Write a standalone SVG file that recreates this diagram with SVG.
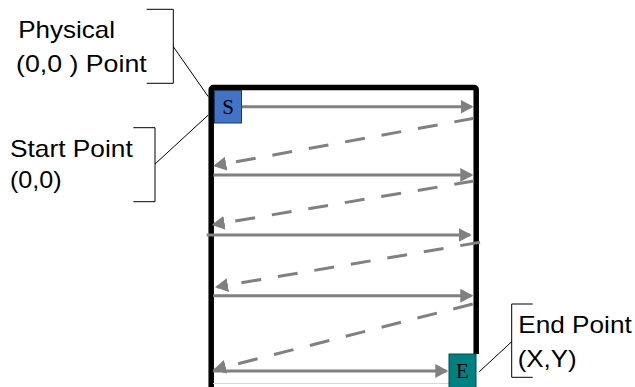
<svg xmlns="http://www.w3.org/2000/svg" width="635" height="387" viewBox="0 0 635 387">
<style>
.lbl{font-family:"Liberation Sans",Arial,sans-serif;font-size:24px;fill:#000}
.box{font-family:"Liberation Serif","Times New Roman",serif;font-size:21px;fill:#000}
.solid{stroke:#808080;stroke-width:3;fill:none;marker-end:url(#ah)}
.dash{stroke:#808080;stroke-width:3;fill:none;stroke-dasharray:20 17;marker-end:url(#ah)}
.thin{stroke:#000;stroke-width:1;fill:none}
</style>
<defs>
<marker id="ah" markerUnits="userSpaceOnUse" markerWidth="14" markerHeight="14" refX="11" refY="7" orient="auto" viewBox="0 0 14 14">
<path d="M0,0 L13,7 L0,14 z" fill="#808080"/>
</marker>
</defs>
<rect width="635" height="387" fill="#fff"/>
<g id="frame">
<rect x="211.2" y="87.5" width="265" height="320" rx="2" fill="none" stroke="#000" stroke-width="5.5"/>
<line x1="213" y1="383.5" x2="449" y2="383.5" stroke="#d6d6d6" stroke-width="1"/>
</g>
<g id="connectors">
<line class="solid" x1="242" y1="106.7" x2="471.5" y2="106.7"/>
<line class="dash" x1="474" y1="118.3" x2="215.3" y2="165.6"/>
<line class="solid" x1="213.3" y1="175" x2="471.3" y2="175"/>
<line class="dash" x1="474" y1="181" x2="213.7" y2="224.6"/>
<line class="solid" x1="206.7" y1="235" x2="469.7" y2="235"/>
<line class="dash" x1="480" y1="242.3" x2="217" y2="286.9"/>
<line class="solid" x1="213" y1="295.7" x2="471.3" y2="295.7"/>
<line class="dash" x1="472.7" y1="304" x2="215" y2="369.6"/>
<line class="solid" x1="213" y1="371" x2="446.3" y2="371"/>
</g>
<g id="start-node">
<rect x="214.5" y="90.5" width="27" height="32.5" fill="#4472C4" stroke="#1f3864" stroke-width="1"/>
<text class="box" x="228" y="113.5" text-anchor="middle">S</text>
</g>
<g id="end-node">
<rect x="473" y="354" width="8" height="33" fill="#fff"/>
<rect x="449" y="354" width="27" height="34" fill="#008080" stroke="#004d4d" stroke-width="1"/>
<text class="box" x="462.5" y="377.5" text-anchor="middle">E</text>
</g>
<g id="callout-physical">
<path class="thin" d="M146.7,9.3 H173.3 V83.3 H146.7"/>
<line class="thin" x1="173.3" y1="46.7" x2="208.3" y2="96.7"/>
<text class="lbl" x="18.3" y="38.3" textLength="96.7" lengthAdjust="spacingAndGlyphs">Physical</text>
<text class="lbl" x="16" y="71.7" textLength="130.7" lengthAdjust="spacingAndGlyphs">(0,0 ) Point</text>
</g>
<g id="callout-start">
<path class="thin" d="M133.3,127.7 H155 V201.7 H133.3"/>
<line class="thin" x1="155" y1="164" x2="208.3" y2="115"/>
<text class="lbl" x="10" y="156.7" textLength="122.7" lengthAdjust="spacingAndGlyphs">Start Point</text>
<text class="lbl" x="10" y="187.5" textLength="51.7" lengthAdjust="spacingAndGlyphs">(0,0)</text>
</g>
<g id="callout-end">
<path class="thin" d="M532.7,304 H511.7 V377.3 H532.7"/>
<line class="thin" x1="511.7" y1="341.7" x2="479.3" y2="371.7"/>
<text class="lbl" x="518.3" y="333.3" textLength="113.4" lengthAdjust="spacingAndGlyphs">End Point</text>
<text class="lbl" x="517.7" y="366.7" textLength="59" lengthAdjust="spacingAndGlyphs">(X,Y)</text>
</g>
</svg>
